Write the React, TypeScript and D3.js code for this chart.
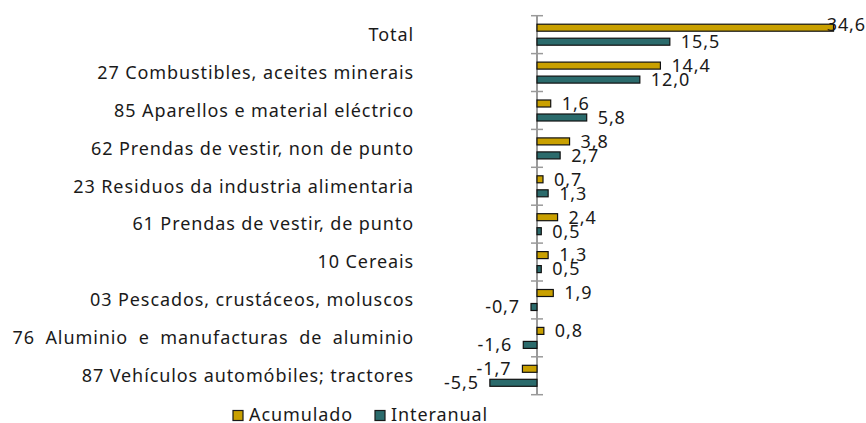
import React from 'react';
import * as d3 from 'd3';

const categories = [
  'Total',
  '27 Combustibles, aceites minerais',
  '85 Aparellos e material eléctrico',
  '62 Prendas de vestir, non de punto',
  '23 Residuos da industria alimentaria',
  '61 Prendas de vestir, de punto',
  '10 Cereais',
  '03 Pescados, crustáceos, moluscos',
  '76 Aluminio e manufacturas de aluminio',
  '87 Vehículos automóbiles; tractores',
];
const seriesNames = ['Acumulado', 'Interanual'];
const acumulado = [34.6, 14.4, 1.6, 3.8, 0.7, 2.4, 1.3, 1.9, 0.8, -1.7];
const interanual = [15.5, 12.0, 5.8, 2.7, 1.3, 0.5, 0.5, -0.7, -1.6, -5.5];
const colors = ['#C9A000', '#2B6B6C'];

const W = 866;
const H = 423;
const font = '"Noto Sans", "Open Sans", sans-serif';
const fmt = (v: number) => v.toFixed(1).replace('.', ',');

export default function App() {
  const zeroX = 537;
  const k = 8.57;
  const x = d3.scaleLinear().domain([0, 34.6]).range([zeroX, zeroX + 34.6 * k]);
  const y = d3.scaleBand<string>().domain(categories).range([15.7, 394.7]);
  const inner = d3.scaleBand<string>().domain(seriesNames).range([8.5, 29.5]).paddingInner(0.5);
  const values = [acumulado, interanual];

  return (
    <svg width={W} height={H} style={{position: 'absolute', left: 0, top: 0}}
         fontFamily={font} fontSize={18} letterSpacing={0.9}>
      {/* category labels, the long aluminium one is stretched like in the source */}
      {categories.map(c => (
        <text key={c} x={414} y={(y(c) as number) + y.bandwidth() / 2} dy="0.35em"
              textAnchor="end" fill="#1a1a1a" wordSpacing={c.length > 36 ? 5 : 0}>{c}</text>
      ))}
      {/* axis */}
      <line x1={zeroX} x2={zeroX} y1={y.range()[0]} y2={y.range()[1]} stroke="#9a9a9a" strokeWidth={2}/>
      {d3.range(categories.length + 1).map(i => {
        const ty = y.range()[0] + i * y.step();
        return <line key={i} x1={zeroX - 6} x2={zeroX + 6} y1={ty} y2={ty} stroke="#9a9a9a" strokeWidth={1.5}/>;
      })}
      {/* bars */}
      {seriesNames.map((s, si) => values[si].map((v, i) => {
        const by = (y(categories[i]) as number) + (inner(s) as number);
        const x0 = Math.min(x(0), x(v));
        const w = Math.abs(x(v) - x(0));
        return (
          <rect key={s + i} x={x0} y={by} width={w} height={inner.bandwidth()}
                fill={colors[si]} stroke="#111" strokeWidth={1.2}/>
        );
      }))}
      {/* value labels */}
      {seriesNames.map((s, si) => values[si].map((v, i) => {
        let cy = (y(categories[i]) as number) + (inner(s) as number) + inner.bandwidth() / 2;
        let lx = v >= 0 ? x(v) + 11 : x(v) - 11;
        let anchor = v >= 0 ? 'start' : 'end';
        if (v >= 0 && lx + 40 > W) {
          lx = W;
          anchor = 'end';
          cy -= 3;
        }
        return (
          <text key={'l' + s + i} x={lx} y={cy} dy="0.35em" textAnchor={anchor} fill="#1a1a1a">{fmt(v)}</text>
        );
      }))}
      {/* legend */}
      {seriesNames.map((s, si) => {
        const lx = si === 0 ? 233 : 375;
        return (
          <g key={s} transform={`translate(${lx},410.5)`}>
            <rect x={0} y={0} width={10} height={10} fill={colors[si]} stroke="#1a1a1a" strokeWidth={1.2}/>
            <text x={16} y={4.5} dy="0.35em" fill="#1a1a1a">{s}</text>
          </g>
        );
      })}
    </svg>
  );
}
